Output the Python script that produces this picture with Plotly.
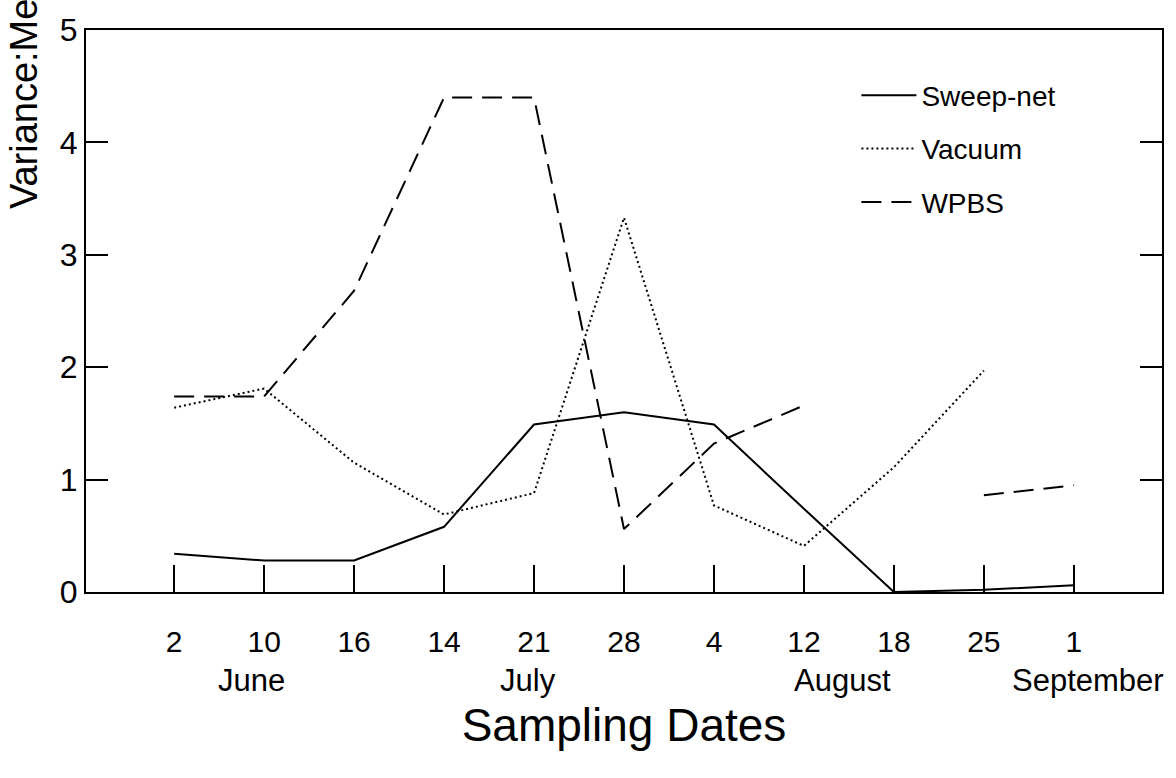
import plotly.graph_objects as go

# ---- data ----
dates = ["2", "10", "16", "14", "21", "28", "4", "12", "18", "25", "1"]
months = ["June", "July", "August", "September"]
month_pos = [0.86, 3.93, 7.43, 10.16]
sweep_net = [0.34, 0.28, 0.28, 0.58, 1.49, 1.60, 1.49, 0.74, 0.00, 0.02, 0.06]
vacuum = [1.64, 1.81, 1.15, 0.69, 0.88, 3.33, 0.77, 0.41, 1.11, 1.97, None]
wpbs = [1.74, 1.74, 2.68, 4.40, 4.40, 0.56, 1.32, 1.66, None, 0.86, 0.95]
y_ticks = [0, 1, 2, 3, 4, 5]

FONT = "Liberation Sans, Arial, sans-serif"
x_idx = list(range(len(dates)))

fig = go.Figure()
fig.add_trace(go.Scatter(x=x_idx, y=sweep_net, mode="lines", name="Sweep-net",
                         line=dict(color="black", width=2, dash="solid"),
                         legendgroup="a"))
fig.add_trace(go.Scatter(x=x_idx, y=vacuum, mode="lines", name="Vacuum",
                         line=dict(color="black", width=2, dash="2px,3px"),
                         connectgaps=False, legendgroup="b"))
fig.add_trace(go.Scatter(x=x_idx, y=wpbs, mode="lines", name="WPBS",
                         line=dict(color="black", width=2, dash="20px,10px"),
                         connectgaps=False, legendgroup="c"))

for m, p in zip(months, month_pos):
    fig.add_annotation(x=p, y=-0.158, xref="x", yref="paper", text=m,
                       showarrow=False, xanchor="center", yanchor="middle",
                       font=dict(family=FONT, size=31, color="black"))

fig.add_annotation(x=-0.0575, y=0.678, xref="paper", yref="paper",
                   text="Variance:Mean Ratio", textangle=-90, showarrow=False,
                   xanchor="center", yanchor="bottom",
                   font=dict(family=FONT, size=38, color="black"))

fig.update_layout(
    width=1176, height=778,
    margin=dict(l=86, r=12, t=21, b=186),
    paper_bgcolor="white", plot_bgcolor="white",
    font=dict(family=FONT, color="black"),
    showlegend=True,
    legend=dict(x=0.716, y=0.928, xanchor="left", yanchor="top",
                font=dict(family=FONT, size=28, color="black"),
                bgcolor="rgba(0,0,0,0)", traceorder="grouped",
                tracegroupgap=14, itemwidth=55),
    xaxis=dict(range=[-0.98, 10.98], tickmode="array", tickvals=x_idx,
               ticktext=dates, ticks="inside", ticklen=27, tickwidth=2,
               tickcolor="black", showline=True, linecolor="black",
               linewidth=2, mirror=True, showgrid=False, zeroline=False,
               tickfont=dict(family=FONT, size=30, color="black"),
               ticklabelstandoff=22,
               title=dict(text="Sampling Dates", standoff=52,
                          font=dict(family=FONT, size=46, color="black"))),
    yaxis=dict(range=[0, 5], tickmode="array", tickvals=y_ticks,
               ticks="inside", ticklen=22, tickwidth=2, tickcolor="black",
               showline=True, linecolor="black", linewidth=2, mirror="ticks",
               showgrid=False, zeroline=False,
               tickfont=dict(family=FONT, size=32, color="black")),
)

fig.write_html("out.html")
